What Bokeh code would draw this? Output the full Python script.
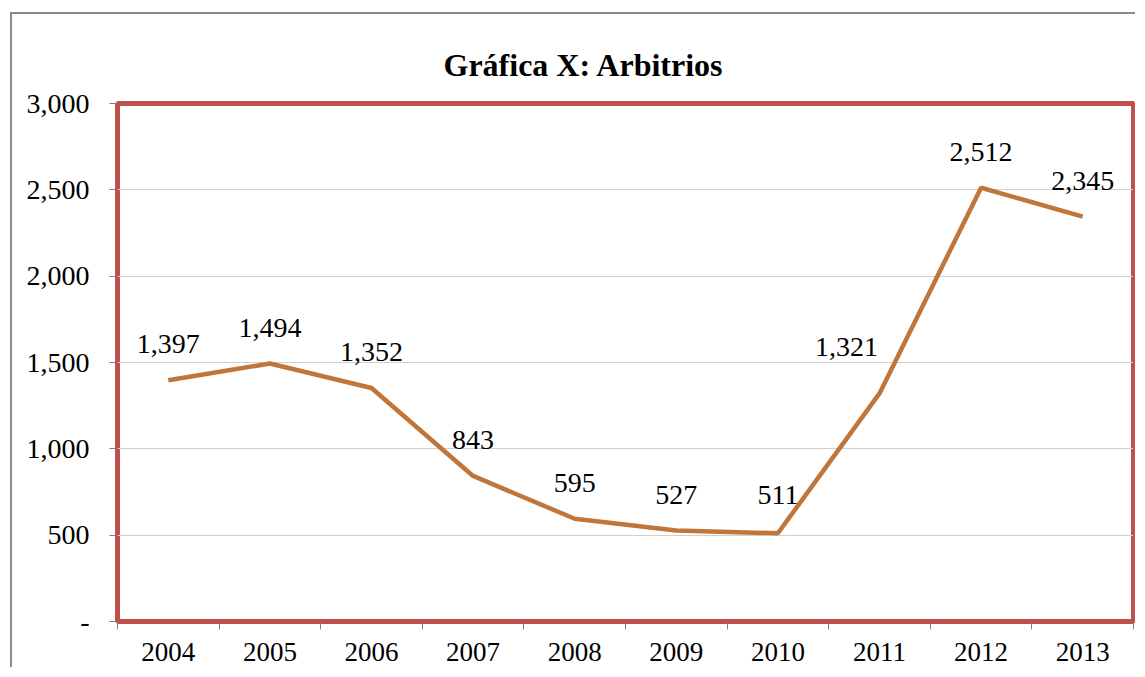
from bokeh.plotting import figure
from bokeh.models import Range1d, FixedTicker, NumeralTickFormatter, ColumnDataSource
from bokeh.embed import file_html
from bokeh.resources import INLINE
from bokeh.core.properties import value

# ---- data ----
years = ["2004", "2005", "2006", "2007", "2008", "2009", "2010", "2011", "2012", "2013"]
values = [1397, 1494, 1352, 843, 595, 527, 511, 1321, 2512, 2345]
y_ticks = [0, 500, 1000, 1500, 2000, 2500, 3000]
title_text = "Gráfica X: Arbitrios"

# ---- label placement (styling) ----
label_dx = [0, 0, 0, 0, 0, 0, 0, -33, 0, 0]
label_dy = [-36, -36, -36, -36, -36, -36, -38, -46, -36, -36]

n = len(years)
xs = [i + 0.5 for i in range(n)]
source = ColumnDataSource(dict(
    x=xs, y=values, label=[f"{v:,}" for v in values], dx=label_dx, dy=label_dy,
))

SERIF = "Liberation Serif"
OX, OY = 12, 14            # canvas origin after the outer chart border
W, H = 1125, 655

p = figure(width=W, height=H, x_range=Range1d(0, n), y_range=Range1d(0, 3000),
           output_backend="svg", toolbar_location=None,
           min_border_left=117 - OX, min_border_right=W - (1133 - OX),
           min_border_top=103 - OY, min_border_bottom=H - (621 - OY))
p.background_fill_color = "white"
p.border_fill_color = "white"
p.styles = {"margin-left": "10px", "margin-top": "12px",
            "border-left": "2px solid #8c8c8c", "border-top": "2px solid #8c8c8c"}

# title
p.title.text = title_text
p.title.text_font = SERIF
p.title.text_font_size = "32px"
p.title.text_font_style = "bold"
p.title.text_color = "black"
p.title.align = "left"
p.title.offset = 326
p.title.vertical_align = "top"
p.title.standoff = 37

# frame outline
p.outline_line_color = "#c0504d"
p.outline_line_width = 5

# x axis
p.xaxis.ticker = FixedTicker(ticks=xs, minor_ticks=list(range(n + 1)))
p.xaxis.major_label_overrides = {x: yr for x, yr in zip(xs, years)}
p.xaxis.major_tick_out = 0
p.xaxis.major_tick_in = 0
p.xaxis.minor_tick_out = 8
p.xaxis.minor_tick_in = 0
p.xaxis.minor_tick_line_color = "#7f7f7f"
p.xaxis.axis_line_color = None
p.xaxis.major_label_standoff = 13
p.xaxis.major_label_text_font = SERIF
p.xaxis.major_label_text_font_size = "27px"
p.xaxis.major_label_text_color = "black"

# y axis
p.yaxis.ticker = FixedTicker(ticks=y_ticks)
p.yaxis.formatter = NumeralTickFormatter(format="0,0")
p.yaxis.major_label_overrides = {0: "-"}
p.yaxis.major_tick_out = 8
p.yaxis.major_tick_in = 0
p.yaxis.major_tick_line_color = "#7f7f7f"
p.yaxis.minor_tick_line_color = None
p.yaxis.axis_line_color = None
p.yaxis.major_label_standoff = 20
p.yaxis.major_label_text_font = SERIF
p.yaxis.major_label_text_font_size = "28px"
p.yaxis.major_label_text_color = "black"

# grid
p.xgrid.grid_line_color = None
p.ygrid.ticker = FixedTicker(ticks=y_ticks[1:])
p.ygrid.grid_line_color = "#d0d0d0"
p.ygrid.grid_line_width = 1

# series
p.line("x", "y", source=source, line_color="#c0763a", line_width=4.5)
p.text(x="x", y="y", text="label", x_offset="dx", y_offset="dy", source=source,
       text_font=value(SERIF), text_font_size="28px", text_align="center",
       text_baseline="alphabetic", text_color="black")

open("out.html", "w").write(file_html(p, INLINE))
